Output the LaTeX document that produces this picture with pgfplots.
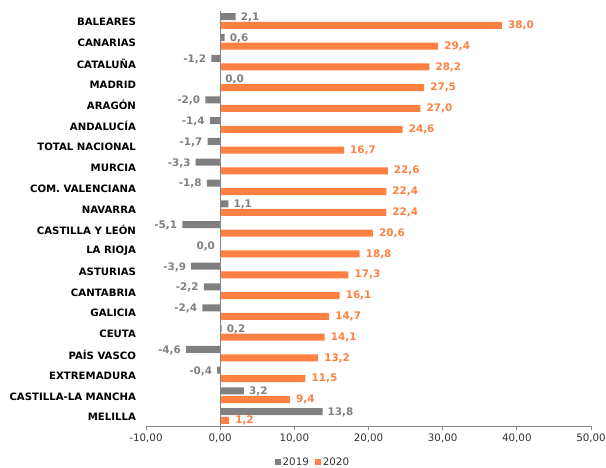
\documentclass[border=0pt]{standalone}
\usepackage{fontspec}
\setmainfont{DejaVu Sans}
\usepackage{pgfplots}
\usepackage{pgfplotstable}
\pgfplotsset{compat=1.18}
\definecolor{cgray}{RGB}{128,128,128}
\definecolor{corange}{RGB}{255,128,64}
\definecolor{axgray}{RGB}{134,134,134}
\definecolor{ticktext}{RGB}{50,50,50}

\pgfplotstableread[col sep=semicolon]{
y;name;v2019;a2019;v2020
0;MELILLA;13.8;west;1.2
1;CASTILLA-LA MANCHA;3.2;west;9.4
2;EXTREMADURA;-0.4;east;11.5
3;PAÍS VASCO;-4.6;east;13.2
4;CEUTA;0.2;west;14.1
5;GALICIA;-2.4;east;14.7
6;CANTABRIA;-2.2;east;16.1
7;ASTURIAS;-3.9;east;17.3
8;LA RIOJA;0.0;east;18.8
9;CASTILLA Y LEÓN;-5.1;east;20.6
10;NAVARRA;1.1;west;22.4
11;COM. VALENCIANA;-1.8;east;22.4
12;MURCIA;-3.3;east;22.6
13;TOTAL NACIONAL;-1.7;east;16.7
14;ANDALUCÍA;-1.4;east;24.6
15;ARAGÓN;-2.0;east;27.0
16;MADRID;0.0;west;27.5
17;CATALUÑA;-1.2;east;28.2
18;CANARIAS;0.6;west;29.4
19;BALEARES;2.1;west;38.0
}\data

\begin{document}
\begin{tikzpicture}
\begin{axis}[
  at={(146pt,-426.4pt)}, anchor=south west,
  scale only axis, width=445pt, height=415.8pt,
  xmin=-10, xmax=50, ymin=-0.5, ymax=19.5,
  xtick={-10,0,10,20,30,40,50},
  ytick={0,...,19},
  yticklabels from table={\data}{name},
  axis x line*=bottom, axis y line*=left,
  y axis line style={draw=none},
  x axis line style={draw=axgray, line width=0.8pt},
  xtick style={draw=axgray, line width=0.8pt},
  ytick style={draw=none},
  tick align=outside, major tick length=4pt,
  xticklabel={\pgfmathprintnumber[fixed,fixed zerofill,precision=2,use comma,assume math mode=true]{\tick}},
  xticklabel style={font=\fontsize{10.3}{12}\selectfont, text=ticktext},
  yticklabel style={font=\fontsize{10.15}{12}\selectfont\bfseries, text=black, xshift=-2.5pt, yshift=-1.2pt},
  xbar, bar width=7pt,
  legend style={at={(0.375,-0.0856)}, anchor=center, draw=none, fill=none,
    legend columns=-1, font=\fontsize{10.3}{12}\selectfont, text=ticktext,
    /tikz/every even column/.append style={column sep=5pt},
    nodes={inner xsep=1.5pt}},
  legend image code/.code={\fill[#1] (0pt,-3pt) rectangle (6pt,3pt);},
]
\addplot[draw=none, fill=cgray, bar shift=4.3pt,
  point meta=explicit symbolic,
  nodes near coords={\pgfmathprintnumber[fixed,fixed zerofill,precision=1,use comma,assume math mode=true]{\pgfkeysvalueof{/data point/x}}},
  every node near coord/.append style={anchor=\pgfplotspointmeta, text=cgray, font=\fontsize{10.4}{12}\selectfont\bfseries, inner xsep=5pt, yshift=-0.8pt}]
  table[x=v2019, y=y, meta=a2019] {\data};
\addlegendentry{2019}
\addplot[draw=none, fill=corange, bar shift=-4.3pt,
  point meta=x,
  nodes near coords={\pgfmathprintnumber[fixed,fixed zerofill,precision=1,use comma,assume math mode=true]{\pgfplotspointmeta}},
  every node near coord/.append style={anchor=west, text=corange, font=\fontsize{10.4}{12}\selectfont\bfseries, inner xsep=6pt}]
  table[x=v2020, y=y] {\data};
\addlegendentry{2020}
\draw[axgray, line width=0.8pt] (axis cs:0,-0.5) -- (axis cs:0,19.5);
\end{axis}
\pgfresetboundingbox
\path (0pt,0pt) rectangle (606pt,-467pt);
\end{tikzpicture}
\end{document}
